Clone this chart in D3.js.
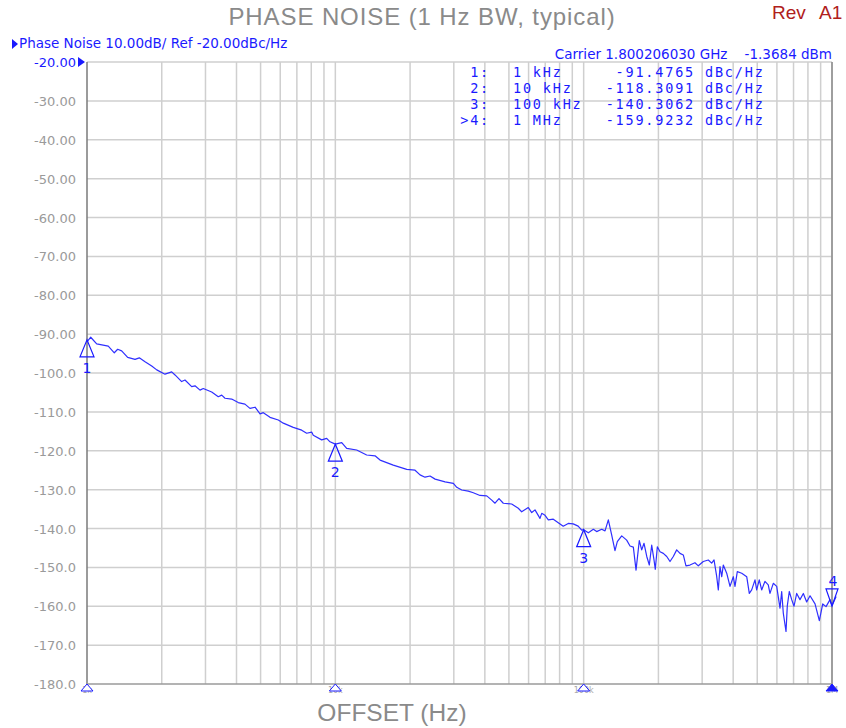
<!DOCTYPE html>
<html>
<head>
<meta charset="utf-8">
<script src="https://cdn.jsdelivr.net/npm/d3@7"></script>
<style>
  body { margin: 0; background: #fff; }
  svg { display: block; }
  .grid line { stroke: #cfcfcf; stroke-width: 1.5px; }
  .blue { fill: #1a1aff; font-family: "DejaVu Sans", sans-serif; font-size: 13.5px; }
  .ylab { fill: #9a9a9a; font-family: "DejaVu Sans", sans-serif; font-size: 13px; }
  .mk { fill: #1a1aff; font-family: "DejaVu Sans Mono", monospace; font-size: 13.5px; letter-spacing: 1.8px; }
</style>
</head>
<body>
<svg id="chart" width="846" height="728"></svg>
<script>
// trace values: offset (Hz) and phase noise (dBc/Hz)
const freqHz = [1000, 1035, 1094, 1218, 1288, 1329, 1379, 1458, 1561, 1624, 1713, 1822, 1909, 2061, 2193, 2262,
  2405, 2481, 2640, 2723, 2851, 2939, 3177, 3378, 3487, 3595, 3825, 4064, 4325, 4531, 4750, 4975, 5129, 5457,
  5894, 6172, 6770, 7321, 7667, 8030, 8150, 8810, 9230, 9517, 10000, 10610, 11110, 12190, 13370, 14450, 15140,
  17110, 19390, 20940, 21930, 22970, 24060, 25220, 27670, 29870, 30830, 32280, 34310, 35940, 38240, 40710,
  42640, 43950, 45600, 47470, 51290, 54540, 56280, 59840, 61780, 63690, 66700, 67780, 69890, 72060, 75460,
  79020, 82750, 86650, 90740, 95020, 98200, 100000, 104400, 109400, 112800, 118200, 121900, 125700, 129700,
  133700, 136600, 142300, 149000, 153700, 158500, 162500, 167500, 171300, 175000, 179500, 183800, 187900,
  191900, 194300, 198000, 203000, 209300, 216000, 222700, 229600, 236900, 244300, 251900, 258200, 267900,
  280600, 289500, 303200, 317600, 327700, 335000, 343400, 348500, 354000, 359700, 365000, 376700, 388400,
  400500, 406800, 415600, 433000, 453500, 464500, 474900, 489700, 497300, 509400, 520900, 537000, 553800,
  562600, 580200, 598800, 617400, 627200, 636700, 652800, 660700, 673000, 688200, 703100, 720800, 743100,
  766600, 790700, 815800, 854500, 889200, 917700, 946300, 981800, 1000000, 1039000];
const phaseNoise = [-92.0, -90.8, -92.5, -93.1, -94.8, -93.9, -94.3, -96.0, -96.5, -96.1, -97.1, -98.2, -99.2,
  -100.3, -99.7, -100.5, -102.2, -101.8, -103.5, -103.3, -104.4, -104.0, -104.9, -106.1, -105.7, -106.5,
  -106.7, -107.6, -108.0, -109.1, -108.8, -110.5, -110.2, -111.4, -112.1, -112.9, -114.0, -114.7, -115.5,
  -115.2, -116.0, -117.2, -116.8, -117.7, -118.3, -117.9, -119.4, -119.8, -121.1, -121.3, -122.4, -123.7,
  -124.8, -125.0, -126.2, -126.8, -126.5, -127.3, -128.0, -128.4, -129.4, -130.1, -130.4, -130.8, -131.5,
  -131.6, -132.7, -133.5, -132.3, -133.5, -133.7, -134.8, -135.7, -134.6, -135.9, -135.2, -137.4, -136.1,
  -136.6, -137.8, -137.6, -138.5, -139.4, -138.7, -138.8, -139.4, -140.4, -140.3, -141.1, -140.2, -140.8,
  -140.2, -140.6, -137.8, -141.7, -145.7, -143.4, -141.9, -143.0, -144.5, -144.8, -150.7, -143.1, -145.5,
  -143.8, -147.2, -149.4, -144.3, -148.0, -150.5, -144.7, -146.0, -146.4, -147.2, -148.5, -147.2, -145.5,
  -146.4, -146.8, -149.6, -149.4, -148.8, -149.6, -148.5, -148.1, -148.9, -148.1, -152.4, -155.8, -149.8,
  -152.4, -149.4, -151.5, -154.9, -152.4, -154.9, -151.1, -151.5, -152.4, -156.7, -155.8, -153.2, -155.8,
  -153.2, -155.8, -153.6, -154.5, -156.7, -154.1, -154.9, -160.5, -156.2, -161.8, -166.5, -159.9, -156.2,
  -158.3, -160.0, -156.7, -158.3, -156.7, -158.9, -157.3, -159.4, -163.7, -159.4, -160.1, -158.3, -159.9,
  -157.5];

const markerFreq = [1e3, 1e4, 1e5, 1e6];
const markerValue = [-91.4765, -118.3091, -140.3062, -159.9232];
const markerName = ["1:", "2:", "3:", ">4:"];
const markerFreqText = ["1 kHz", "10 kHz", "100 kHz", "1 MHz"];
const markerValueText = ["-91.4765", "-118.3091", "-140.3062", "-159.9232"];

const yTicks = d3.range(-20, -181, -10);
const yTickLabels = ["-20.00", "-30.00", "-40.00", "-50.00", "-60.00", "-70.00", "-80.00", "-90.00",
  "-100.0", "-110.0", "-120.0", "-130.0", "-140.0", "-150.0", "-160.0", "-170.0", "-180.0"];
const xTickLabels = ["1k", "10k", "100k", "1M"];

const svg = d3.select("#chart");
const L = 87, R = 832, T = 62, B = 684;
const blue = "#1a1aff";

const x = d3.scaleLog().domain([1e3, 1e6]).range([L, R]);
const y = d3.scaleLinear().domain([-20, -180]).range([T, B]);

// grid
const minor = [];
[1e3, 1e4, 1e5].forEach(dec => { for (let k = 2; k <= 10; k++) minor.push(dec * k); });
const grid = svg.append("g").attr("class", "grid");
grid.selectAll(".v").data(minor).enter().append("line")
  .attr("x1", d => x(d)).attr("x2", d => x(d)).attr("y1", T).attr("y2", B);
grid.selectAll(".h").data(yTicks.slice(0, -1)).enter().append("line")
  .attr("x1", L).attr("x2", R).attr("y1", d => y(d)).attr("y2", d => y(d));

// frame
svg.append("line").attr("x1", L).attr("x2", L).attr("y1", T).attr("y2", B).attr("stroke", "#7a7a7a").attr("stroke-width", 1.5);
svg.append("line").attr("x1", R).attr("x2", R).attr("y1", T).attr("y2", B).attr("stroke", "#8a8a8a").attr("stroke-width", 1.5);
svg.append("line").attr("x1", L).attr("x2", R).attr("y1", B).attr("y2", B).attr("stroke", "#9a9a9a").attr("stroke-width", 1.5);

// y labels
svg.selectAll(".ylab").data(yTicks).enter().append("text")
  .attr("class", (d, i) => i === 0 ? "blue" : "ylab")
  .style("font-size", "13px")
  .attr("x", 76).attr("y", d => y(d) + 5)
  .attr("text-anchor", "end")
  .text((d, i) => yTickLabels[i]);
svg.append("path").attr("d", `M78,${T - 5}L85,${T}L78,${T + 5}Z`).attr("fill", blue);

// tiny x labels (mostly hidden under the marker flags)
svg.selectAll(".xlab").data(markerFreq).enter().append("text")
  .attr("x", d => x(d)).attr("y", B + 9)
  .attr("text-anchor", "middle")
  .style("font", "8px 'DejaVu Sans', sans-serif").style("fill", "#aaa")
  .text((d, i) => xTickLabels[i]);

// trace
const line = d3.line().x((d, i) => x(freqHz[i])).y(d => y(d));
svg.append("path").datum(phaseNoise)
  .attr("d", line)
  .attr("fill", "none").attr("stroke", "#2f2fff").attr("stroke-width", 1.2)
  .attr("stroke-linejoin", "round");

// markers on the trace
markerFreq.forEach((f, i) => {
  const mx = x(f), my = y(markerValue[i]);
  const g = svg.append("g");
  if (i < 3) {
    g.append("path").attr("d", `M${mx},${my}L${mx - 7},${my + 17}L${mx + 7},${my + 17}Z`)
      .attr("fill", "none").attr("stroke", blue).attr("stroke-width", 1.2);
    g.append("text").attr("class", "blue").attr("x", mx).attr("y", my + 33)
      .attr("text-anchor", "middle").style("font-size", "14px").text(i + 1);
  } else {
    g.append("path").attr("d", `M${mx},${my}L${mx - 6},${my - 17}L${mx + 6},${my - 17}Z`)
      .attr("fill", "none").attr("stroke", blue).attr("stroke-width", 1.2);
    g.append("text").attr("class", "blue").attr("x", mx + 1).attr("y", my - 20)
      .attr("text-anchor", "middle").style("font-size", "14px").text(i + 1);
  }
  // flag on the x axis
  svg.append("path").attr("d", `M${mx},${B}L${mx - 6},${B + 7}L${mx + 6},${B + 7}Z`)
    .attr("fill", i === 3 ? blue : "#fff").attr("stroke", blue).attr("stroke-width", 1);
});

// header texts
svg.append("text").attr("x", 422).attr("y", 25).attr("text-anchor", "middle")
  .style("font", "24px 'Liberation Sans', Arial, sans-serif").style("letter-spacing", "0.9px")
  .style("fill", "#8a8a8a")
  .text("PHASE NOISE (1 Hz BW, typical)");
svg.append("text").attr("x", 772).attr("y", 19)
  .style("font", "19px 'Liberation Sans', Arial, sans-serif").style("fill", "#b0201c").text("Rev");
svg.append("text").attr("x", 819).attr("y", 19)
  .style("font", "19px 'Liberation Sans', Arial, sans-serif").style("fill", "#b0201c").text("A1");
svg.append("path").attr("d", "M12,39L18,44L12,49Z").attr("fill", blue);
svg.append("text").attr("class", "blue").attr("x", 19).attr("y", 48)
  .text("Phase Noise 10.00dB/ Ref -20.00dBc/Hz");
svg.append("text").attr("class", "blue").attr("x", 832).attr("y", 59).attr("text-anchor", "end")
  .style("white-space", "pre").text("Carrier 1.800206030 GHz    -1.3684 dBm");

// marker table
const rows = svg.append("g");
markerName.forEach((n, i) => {
  const ty = 77 + i * 16;
  rows.append("text").attr("class", "mk").attr("x", 490).attr("y", ty).attr("text-anchor", "end").text(n);
  rows.append("text").attr("class", "mk").attr("x", 513).attr("y", ty).text(markerFreqText[i]);
  rows.append("text").attr("class", "mk").attr("x", 695).attr("y", ty).attr("text-anchor", "end").text(markerValueText[i]);
  rows.append("text").attr("class", "mk").attr("x", 705).attr("y", ty).text("dBc/Hz");
});

// x axis title
svg.append("text").attr("x", 392).attr("y", 721).attr("text-anchor", "middle")
  .style("font", "24.5px 'Liberation Sans', Arial, sans-serif").style("fill", "#8a8a8a")
  .text("OFFSET (Hz)");
</script>
</body>
</html>
